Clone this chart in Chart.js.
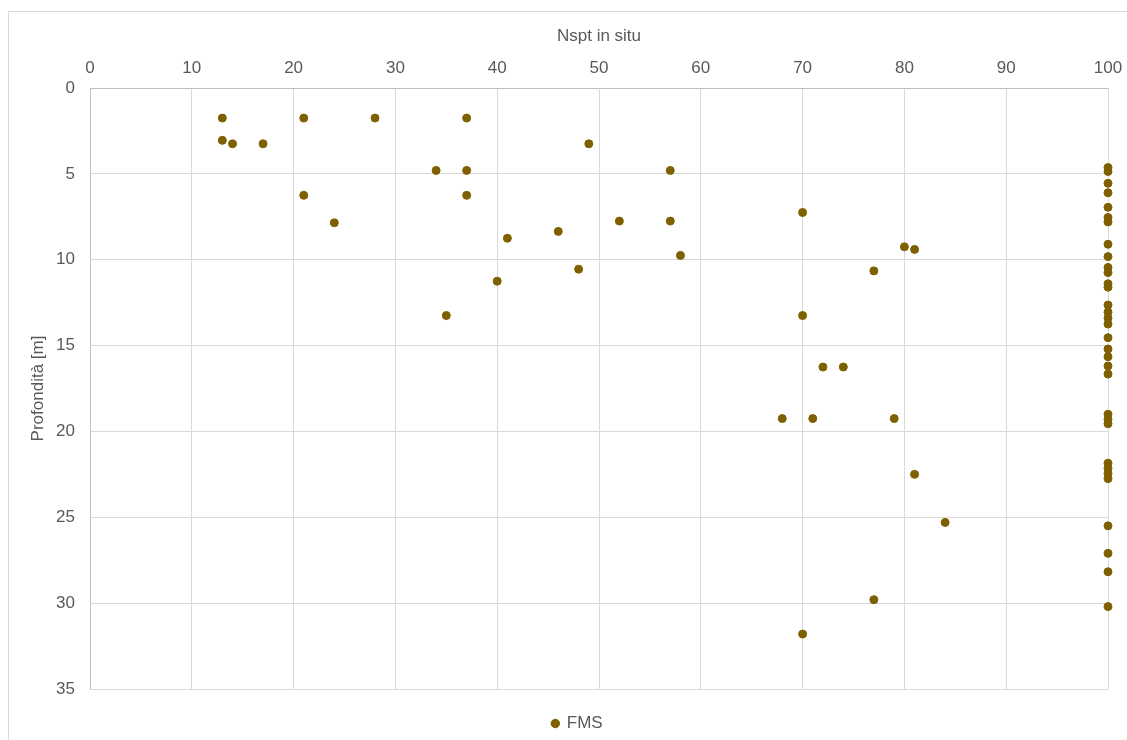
<!DOCTYPE html>
<html>
<head>
<meta charset="utf-8">
<script src="https://cdn.jsdelivr.net/npm/chart.js@4/dist/chart.umd.min.js"></script>
<style>
  html, body { margin: 0; padding: 0; background: #fff; overflow: hidden; width: 1127px; height: 740px; }
  #box { position: absolute; left: 8px; top: 11px; width: 1137px; height: 760px; border: 1px solid #d9d9d9; background: #fff; }
  #wrap { position: absolute; left: 0; top: 0; width: 1137px; height: 730px; }
</style>
</head>
<body>
<div id="box"><div id="wrap"><canvas id="chart"></canvas></div></div>
<script>
// Nspt values
var nspt = [13, 21, 28, 37, 13, 14, 17, 49, 34, 37, 57, 21, 37, 70, 52, 57, 24, 46, 41, 80, 81, 58, 48, 77, 40, 35, 70, 72, 74, 68, 71, 79, 81, 84, 77, 70,
  100, 100, 100, 100, 100, 100, 100, 100, 100, 100, 100, 100, 100, 100, 100, 100, 100, 100, 100, 100, 100, 100, 100, 100, 100, 100, 100, 100, 100, 100, 100, 100, 100, 100, 100];
// depth in metres, same order
var depth = [1.75, 1.75, 1.75, 1.75, 3.05, 3.25, 3.25, 3.25, 4.8, 4.8, 4.8, 6.25, 6.25, 7.25, 7.75, 7.75, 7.85, 8.35, 8.75, 9.25, 9.4, 9.75, 10.55, 10.65, 11.25, 13.25, 13.25, 16.25, 16.25, 19.25, 19.25, 19.25, 22.5, 25.3, 29.8, 31.8,
  4.63, 4.86, 5.55, 6.1, 6.95, 7.54, 7.8, 9.1, 9.82, 10.45, 10.75, 11.4, 11.6, 12.64, 13.05, 13.4, 13.75, 14.54, 15.2, 15.65, 16.19, 16.66, 19.0, 19.3, 19.55, 21.85, 22.15, 22.45, 22.75, 25.5, 27.1, 28.17, 30.2];
var seriesName = 'FMS';
var xTitle = 'Nspt in situ';
var yTitle = 'Profondità [m]';

var points = [];
for (var i = 0; i < nspt.length; i++) {
  points.push({ x: nspt[i], y: depth[i] });
}

var textCol = '#595959';
var gridCol = '#d9d9d9';
var fontFam = '"Liberation Sans", Arial, sans-serif';

var graph = new Chart(document.getElementById('chart'), {
  type: 'scatter',
  data: {
    datasets: [{
      label: seriesName,
      data: points,
      xAxisID: 'x',
      yAxisID: 'y',
      backgroundColor: '#7f6000',
      borderColor: '#7f6000',
      pointRadius: 4,
      borderWidth: 1,
      clip: false
    }]
  },
  options: {
    responsive: true,
    maintainAspectRatio: false,
    animation: false,
    layout: { padding: { left: 3, top: 3, right: 3, bottom: 0 } },
    plugins: {
      legend: {
        position: 'bottom',
        labels: {
          usePointStyle: true,
          boxWidth: 6,
          boxHeight: 6,
          padding: 10,
          color: textCol,
          font: { family: fontFam, size: 17 }
        }
      },
      tooltip: { enabled: false }
    },
    scales: {
      x: {
        type: 'linear',
        position: 'top',
        min: 0,
        max: 100,
        ticks: { stepSize: 10, padding: 9, color: textCol, font: { family: fontFam, size: 17 } },
        grid: { color: gridCol, drawTicks: false },
        border: { color: '#bfbfbf' },
        title: { display: true, text: xTitle, color: textCol, font: { family: fontFam, size: 17 }, padding: { top: 11, bottom: 0 } },
        afterFit: function (s) { s.height = 73; }
      },
      gap: {
        type: 'linear',
        position: 'bottom',
        display: true,
        ticks: { display: false },
        grid: { display: false, drawTicks: false },
        border: { display: false },
        afterFit: function (s) { s.height = 16; }
      },
      side: {
        type: 'linear',
        position: 'right',
        display: true,
        ticks: { display: false },
        grid: { display: false, drawTicks: false },
        border: { display: false },
        afterFit: function (s) { s.width = 35; }
      },
      y: {
        type: 'linear',
        reverse: true,
        min: 0,
        max: 35,
        ticks: { stepSize: 5, padding: 15, color: textCol, font: { family: fontFam, size: 17 } },
        grid: { color: gridCol, drawTicks: false },
        border: { color: '#bfbfbf' },
        title: { display: true, text: yTitle, color: textCol, font: { family: fontFam, size: 17 }, padding: { top: 16, bottom: 0 } },
        afterFit: function (s) { s.width = 78; }
      }
    }
  }
});
</script>
</body>
</html>
